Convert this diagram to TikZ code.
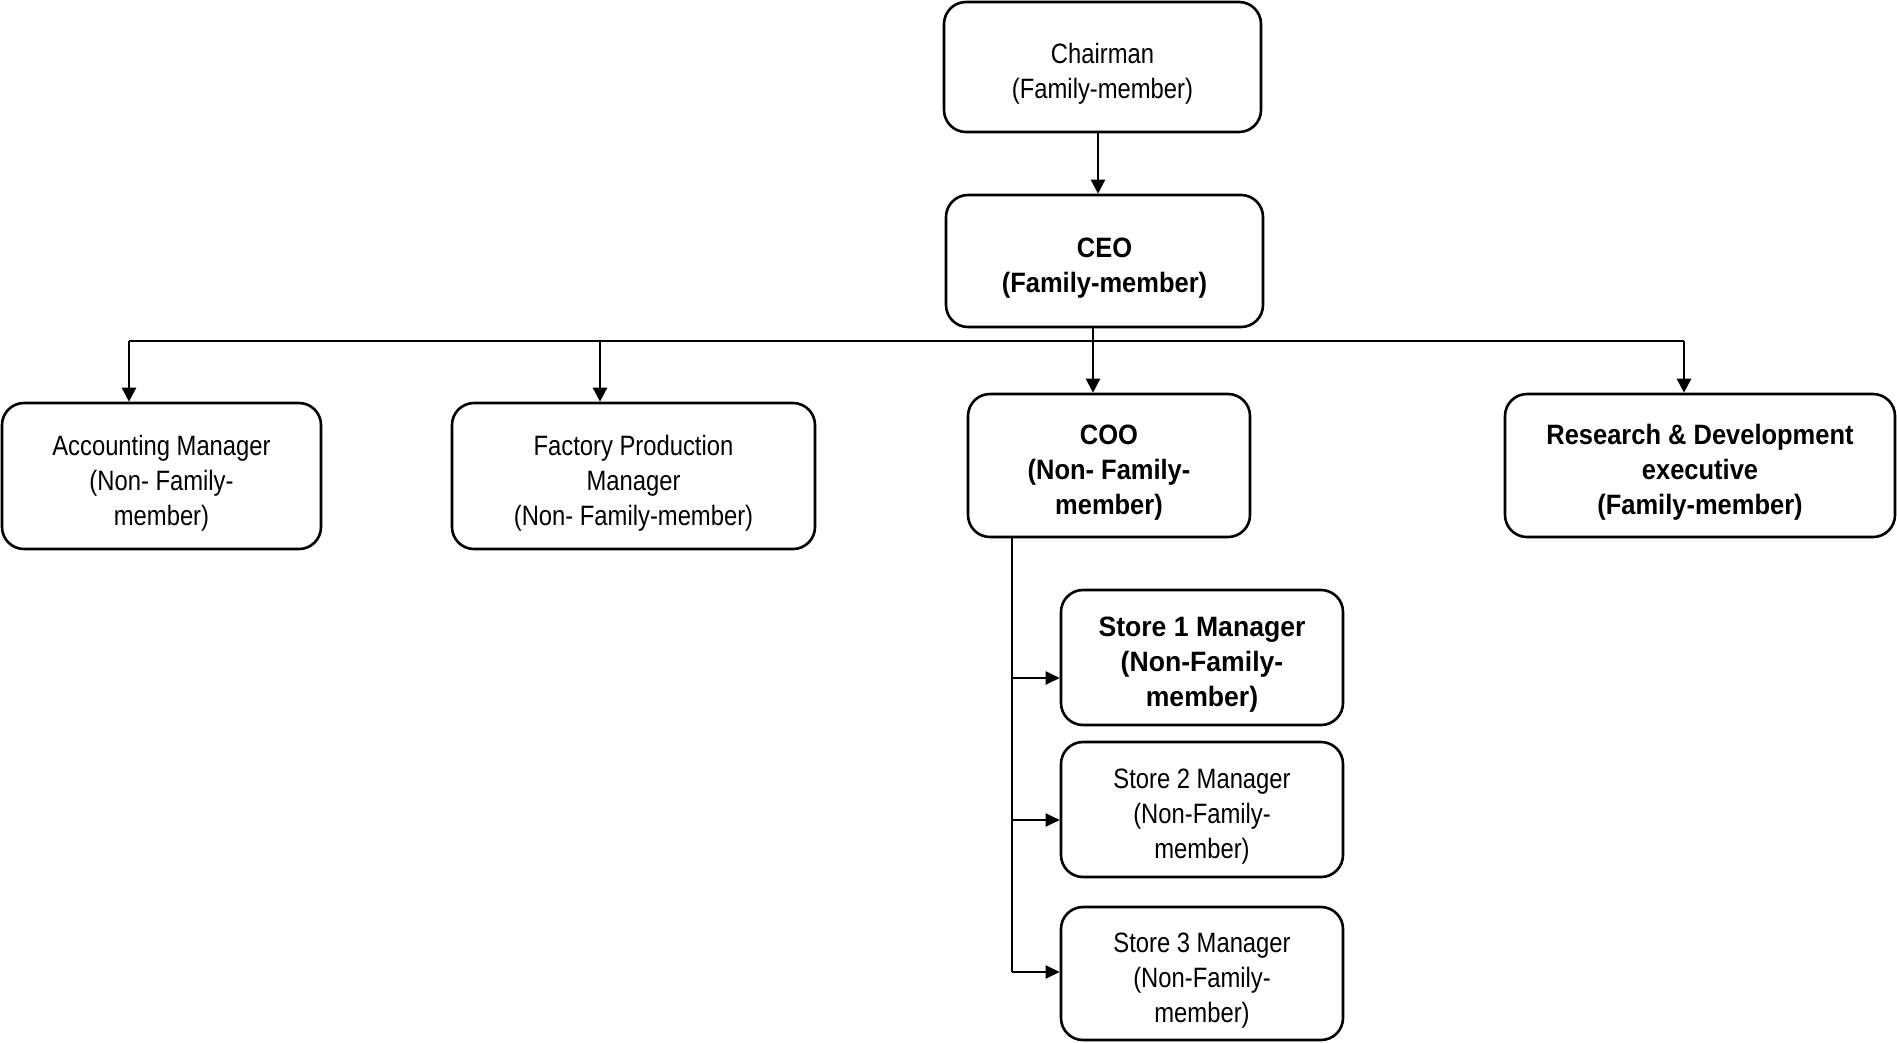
\documentclass[tikz,border=0pt]{standalone}
\usepackage{fontspec}
\setmainfont[FakeStretch=0.85]{Liberation Sans}
\newfontfamily\boldcond[FakeStretch=0.91]{Liberation Sans}
\newfontfamily\boldwide[FakeStretch=0.95]{Liberation Sans}
\usetikzlibrary{arrows.meta}
% extra room above the first line so the text sits a little low in its box
\newcommand\toppad{\rule{0pt}{34pt}}

\begin{document}
\begin{tikzpicture}[x=1pt,y=-1pt,
  box/.style={draw, line width=2.6pt, rounded corners=22pt, align=center,
    inner sep=0pt, font=\fontsize{28}{35}\selectfont},
  boldbox/.style={box, font=\boldcond\bfseries\fontsize{28}{35}\selectfont},
  storebold/.style={box, font=\boldwide\bfseries\fontsize{28}{35}\selectfont},
  arr/.style={line width=2.4pt, -{Triangle[length=14pt,width=14pt]}},
  thinarr/.style={line width=2pt, -{Triangle[length=14pt,width=13pt]}},
  bus/.style={line width=1.6pt}
]
\useasboundingbox (0,0) rectangle (1897,1042);

% top of the chart
\node[box, minimum width=317pt, minimum height=130pt] (chair) at (1102.5,67)
  {\toppad Chairman\\(Family-member)};
\node[boldbox, minimum width=317pt, minimum height=132pt] (ceo) at (1104.5,261)
  {\toppad CEO\\(Family-member)};

% direct reports of the CEO
\node[box, minimum width=319pt, minimum height=146pt] (acc) at (161.5,476)
  {\toppad Accounting Manager\\(Non- Family-\\member)};
\node[box, minimum width=363pt, minimum height=146pt] (fac) at (633.5,476)
  {\toppad Factory Production\\Manager\\(Non- Family-member)};
\node[boldbox, minimum width=282pt, minimum height=143pt] (coo) at (1109,465.5)
  {\toppad COO\\(Non- Family-\\member)};
\node[boldbox, minimum width=390pt, minimum height=143pt] (rd) at (1700,465.5)
  {\toppad Research \& Development\\executive\\(Family-member)};

% stores under the COO
\node[storebold, minimum width=282pt, minimum height=135pt] (s1) at (1202,657.5)
  {\toppad Store 1 Manager\\(Non-Family-\\member)};
\node[box, minimum width=282pt, minimum height=135pt] (s2) at (1202,809.5)
  {\toppad Store 2 Manager\\(Non-Family-\\member)};
\node[box, minimum width=282pt, minimum height=133pt] (s3) at (1202,973.5)
  {\toppad Store 3 Manager\\(Non-Family-\\member)};

% branching points
\coordinate (ca) at (1098,0);
\coordinate (b1) at (129,341);
\coordinate (b2) at (600,341);
\coordinate (b3) at (1093,341);
\coordinate (b4) at (1684,341);
\coordinate (t0) at (1012,0);
\coordinate (t1) at (1012,678);
\coordinate (t2) at (1012,820);
\coordinate (t3) at (1012,972);

% connectors
\draw[arr] (chair.south -| ca) -- (ceo.north -| ca);
\draw[bus] (b1) -- (b4);
\draw[arr] (ceo.south -| b3) -- (coo.north -| b3);
\draw[arr] (b1) -- (acc.north -| b1);
\draw[arr] (b2) -- (fac.north -| b2);
\draw[arr] (b4) -- (rd.north -| b4);

\draw[bus] (coo.south -| t0) -- (t3);
\draw[thinarr] (t1) -- (t1 -| s1.west);
\draw[thinarr] (t2) -- (t2 -| s2.west);
\draw[thinarr] (t3) -- (t3 -| s3.west);
\end{tikzpicture}
\end{document}
